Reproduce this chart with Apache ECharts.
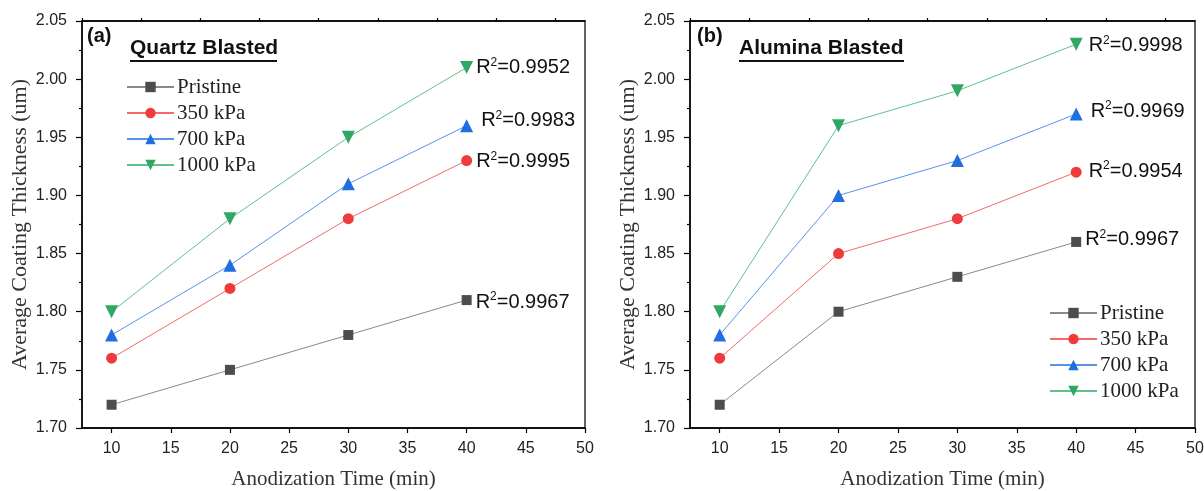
<!DOCTYPE html>
<html><head><meta charset="utf-8">
<script src="https://cdn.jsdelivr.net/npm/echarts@6/dist/echarts.min.js"></script>
<style>html,body{margin:0;padding:0;background:#fff}#c{width:1204px;height:491px}</style>
</head><body><div id="c"></div>
<script>
const times = [10, 20, 30, 40];
const seriesNames = ['Pristine', '350 kPa', '700 kPa', '1000 kPa'];
// Quartz blasted (a)
const quartzPristine = [1.72, 1.75, 1.78, 1.81];
const quartz350 = [1.76, 1.82, 1.88, 1.93];
const quartz700 = [1.78, 1.84, 1.91, 1.96];
const quartz1000 = [1.80, 1.88, 1.95, 2.01];
const quartzR2 = ['0.9967', '0.9995', '0.9983', '0.9952'];
// Alumina blasted (b)
const aluminaPristine = [1.72, 1.80, 1.83, 1.86];
const alumina350 = [1.76, 1.85, 1.88, 1.92];
const alumina700 = [1.78, 1.90, 1.93, 1.97];
const alumina1000 = [1.80, 1.96, 1.99, 2.03];
const aluminaR2 = ['0.9967', '0.9954', '0.9969', '0.9998'];
const xMajorTicks = [10, 15, 20, 25, 30, 35, 40, 45, 50];
const xMinorTicks = [7.5, 12.5, 17.5, 22.5, 27.5, 32.5, 37.5, 42.5, 47.5];

const markerColors = ['#4d4d4d', '#ef3b3b', '#1f6fe0', '#2fa865'];
const lineColors = ['#8a8a8a', '#f46a6a', '#5a93ea', '#62c08a'];
const symbols = ['rect', 'circle', 'triangle', 'triangle'];
const symbolSizes = [10, 11, 13, 13];
const rotates = [0, 0, 0, 180];
const labelOffsets = {
  q: [[-1, 2], [-1, 1], [3, -5], [-2, 0]],
  a: [[-1, -2], [2, -1], [3, -3], [1, 1]]
};

const grids = [
  { left: 82, top: 21, width: 503, height: 407 },
  { left: 690, top: 21, width: 505, height: 407 }
];

function xAxesFor(gi) {
  const base = {
    gridIndex: gi, type: 'value', min: 7.5, max: 50,
    axisLine: { show: true, lineStyle: { color: '#000', width: 1.5 } },
    splitLine: { show: false }
  };
  return [
    Object.assign({}, base, {
      name: 'Anodization Time (min)', nameLocation: 'middle', nameGap: 41,
      nameTextStyle: { fontFamily: 'Liberation Serif', fontSize: 21, color: '#333' },
      axisTick: { show: true, customValues: xMajorTicks, length: 5, lineStyle: { color: '#000', width: 1.2 } },
      axisLabel: { customValues: xMajorTicks, fontFamily: 'Liberation Sans', fontSize: 16, color: '#222', margin: 13 }
    }),
    Object.assign({}, base, {
      axisTick: { show: true, customValues: xMinorTicks, length: 3, lineStyle: { color: '#000', width: 1.2 } },
      axisLabel: { show: false }
    })
  ];
}
function yAxisFor(gi) {
  return {
    gridIndex: gi, type: 'value', min: 1.7, max: 2.05, interval: 0.05,
    name: 'Average Coating Thickness (um)', nameLocation: 'middle', nameGap: 51,
    nameTextStyle: { fontFamily: 'Liberation Serif', fontSize: 22, color: '#333' },
    axisLine: { show: true, lineStyle: { color: '#000', width: 1.5 } },
    axisTick: { show: true, length: 6, lineStyle: { color: '#000', width: 1.2 } },
    minorTick: { show: true, splitNumber: 2, length: 3, lineStyle: { color: '#000', width: 1.2 } },
    axisLabel: { formatter: v => v.toFixed(2), fontFamily: 'Liberation Sans', fontSize: 16, color: '#222', margin: 15 },
    splitLine: { show: false }
  };
}

function makeSeries(gi, datasets, r2, offs) {
  return datasets.map((vals, i) => ({
    name: seriesNames[i], type: 'line',
    xAxisIndex: gi * 2, yAxisIndex: gi,
    data: times.map((t, k) => [t, vals[k]]),
    symbol: symbols[i], symbolSize: symbolSizes[i], symbolRotate: rotates[i],
    itemStyle: { color: markerColors[i] },
    lineStyle: { color: lineColors[i], width: 1 },
    z: 3 + i,
    label: {
      show: true, position: 'right', offset: offs[i],
      formatter: p => p.dataIndex === times.length - 1 ? '{a|R}{s|2}{a|=' + r2[i] + '}' : '',
      rich: {
        a: { fontFamily: 'Liberation Sans', fontSize: 20, color: '#111', lineHeight: 22 },
        s: { fontFamily: 'Liberation Sans', fontSize: 12, color: '#111', lineHeight: 22, verticalAlign: 'top', padding: [0, 0, 10, 0] }
      }
    },
    animation: false
  }));
}

const legendBase = {
  orient: 'vertical', itemWidth: 47, itemHeight: 13, itemGap: 4, padding: 0,
  data: seriesNames,
  textStyle: { fontFamily: 'Liberation Serif', fontSize: 21, color: '#222', lineHeight: 22, padding: [0, 0, 0, -2] },
  selectedMode: false
};

const option = {
  animation: false,
  backgroundColor: '#fff',
  grid: grids.map(g => Object.assign({ show: true, borderColor: '#111', borderWidth: 1.3, backgroundColor: 'transparent', containLabel: false, outerBoundsMode: 'none' }, g)),
  xAxis: xAxesFor(0).concat(xAxesFor(1)),
  yAxis: [yAxisFor(0), yAxisFor(1)],
  legend: [
    Object.assign({}, legendBase, { left: 126, top: 76 }),
    Object.assign({}, legendBase, { left: 1049, top: 302 })
  ],
  series: makeSeries(0, [quartzPristine, quartz350, quartz700, quartz1000], quartzR2, labelOffsets.q)
    .concat(makeSeries(1, [aluminaPristine, alumina350, alumina700, alumina1000], aluminaR2, labelOffsets.a)),
  graphic: [
    { type: 'text', left: 87, top: 26, style: { text: '(a)', font: 'bold 20px "Liberation Sans"', fill: '#111' } },
    { type: 'text', left: 130, top: 38, style: { text: 'Quartz Blasted', font: 'bold 21px "Liberation Sans"', fill: '#111' } },
    { type: 'line', shape: { x1: 130, y1: 61, x2: 277, y2: 61 }, style: { stroke: '#111', lineWidth: 2 } },
    { type: 'text', left: 697, top: 26, style: { text: '(b)', font: 'bold 20px "Liberation Sans"', fill: '#111' } },
    { type: 'text', left: 739, top: 38, style: { text: 'Alumina Blasted', font: 'bold 21px "Liberation Sans"', fill: '#111' } },
    { type: 'line', shape: { x1: 739, y1: 61, x2: 904, y2: 61 }, style: { stroke: '#111', lineWidth: 2 } }
  ]
};
const chart = echarts.init(document.getElementById('c'), null, { renderer: 'canvas' });
chart.setOption(option);
</script></body></html>
